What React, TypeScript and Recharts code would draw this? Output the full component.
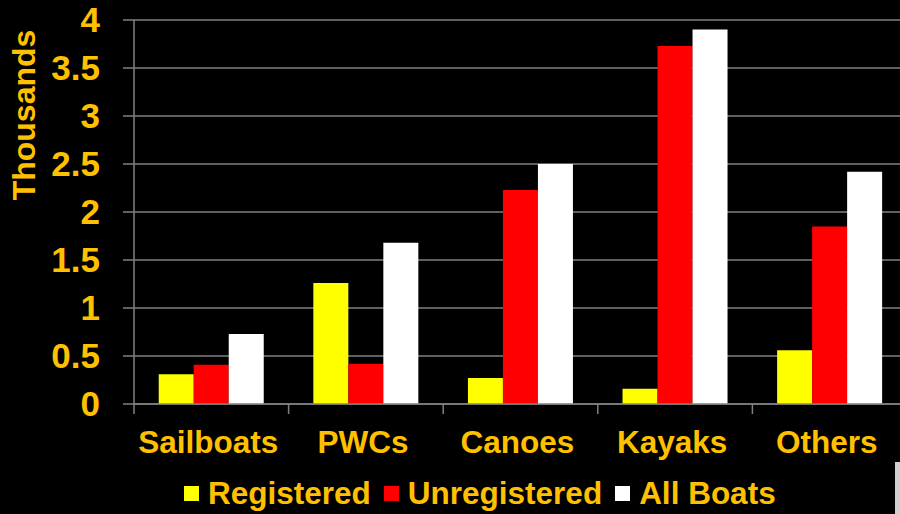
import { BarChart, Bar, XAxis, YAxis, CartesianGrid } from "recharts";

const CATEGORIES = ["Sailboats", "PWCs", "Canoes", "Kayaks", "Others"];
const REGISTERED = [0.31, 1.26, 0.27, 0.16, 0.56];
const UNREGISTERED = [0.41, 0.42, 2.23, 3.73, 1.85];
const ALL_BOATS = [0.73, 1.68, 2.5, 3.9, 2.42];
const Y_TICKS = [0, 0.5, 1, 1.5, 2, 2.5, 3, 3.5, 4];

const SERIES = [
  { key: "registered", name: "Registered", color: "#FFFF00", values: REGISTERED },
  { key: "unregistered", name: "Unregistered", color: "#FF0000", values: UNREGISTERED },
  { key: "allBoats", name: "All Boats", color: "#FFFFFF", values: ALL_BOATS },
];

const data = CATEGORIES.map((name, i) => {
  const row: Record<string, string | number> = { name };
  SERIES.forEach((s) => (row[s.key] = s.values[i]));
  return row;
});

const ORANGE = "#FFC000";
const GRID = "#808080";
const FONT = "'Liberation Sans', Arial, sans-serif";

const CHART_W = 910;
const CHART_H = 514;
const PLOT_LEFT = 134;
const PLOT_TOP = 20;
const PLOT_RIGHT = 907;
const PLOT_BOTTOM = 404;
const BAND = (PLOT_RIGHT - PLOT_LEFT) / CATEGORIES.length;

function CategoryTick(props: any) {
  const { x, payload } = props;
  const left = x - BAND / 2;
  return (
    <g>
      <line x1={left} x2={left} y1={PLOT_BOTTOM} y2={PLOT_BOTTOM + 10} stroke={GRID} strokeWidth={1.5} />
      <text
        x={x - 3}
        y={PLOT_BOTTOM + 49}
        textAnchor="middle"
        fill={ORANGE}
        fontSize={31.5}
        fontWeight="bold"
        fontFamily={FONT}
      >
        {payload.value}
      </text>
    </g>
  );
}

export default function App() {
  return (
    <div
      style={{
        position: "absolute",
        left: 0,
        top: 0,
        width: 900,
        height: 514,
        background: "#000",
        overflow: "hidden",
        fontFamily: FONT,
      }}
    >
      <BarChart
        width={CHART_W}
        height={CHART_H}
        data={data}
        margin={{ top: PLOT_TOP, right: CHART_W - PLOT_RIGHT, left: 0, bottom: 50 }}
        barCategoryGap="16%"
        barGap={0}
      >
        <CartesianGrid horizontal vertical={false} stroke={GRID} strokeWidth={1.5} />
        <XAxis
          dataKey="name"
          height={CHART_H - PLOT_BOTTOM - 50}
          axisLine={{ stroke: GRID, strokeWidth: 1.5 }}
          tickLine={false}
          tick={<CategoryTick />}
          interval={0}
        />
        <YAxis
          width={PLOT_LEFT}
          domain={[0, 4]}
          ticks={Y_TICKS}
          axisLine={{ stroke: GRID, strokeWidth: 1.5 }}
          tickLine={{ stroke: GRID, strokeWidth: 1.5 }}
          tickSize={11}
          tickMargin={23}
          tick={{ fill: ORANGE, fontSize: 35, fontWeight: "bold", fontFamily: FONT }}
          label={{
            content: () => (
              <text
                x={35}
                y={115}
                transform="rotate(-90, 35, 115)"
                textAnchor="middle"
                fill={ORANGE}
                fontSize={32}
                fontWeight="bold"
                fontFamily={FONT}
              >
                Thousands
              </text>
            ),
          }}
        />
        {SERIES.map((s) => (
          <Bar key={s.key} dataKey={s.key} name={s.name} fill={s.color} isAnimationActive={false} />
        ))}
      </BarChart>
      <div
        style={{
          position: "absolute",
          left: 184,
          top: 478,
          display: "flex",
          alignItems: "center",
          fontSize: 31.5,
          lineHeight: 1,
          fontWeight: "bold",
          color: ORANGE,
          whiteSpace: "nowrap",
        }}
      >
        {SERIES.map((s) => (
          <div key={s.key} style={{ display: "flex", alignItems: "center", marginRight: 13 }}>
            <span style={{ width: 15, height: 15, background: s.color, marginRight: 9 }} />
            <span>{s.name}</span>
          </div>
        ))}
      </div>
      <div style={{ position: "absolute", left: 895, top: 462, width: 5, height: 52, background: "#D0D0D0" }} />
    </div>
  );
}
